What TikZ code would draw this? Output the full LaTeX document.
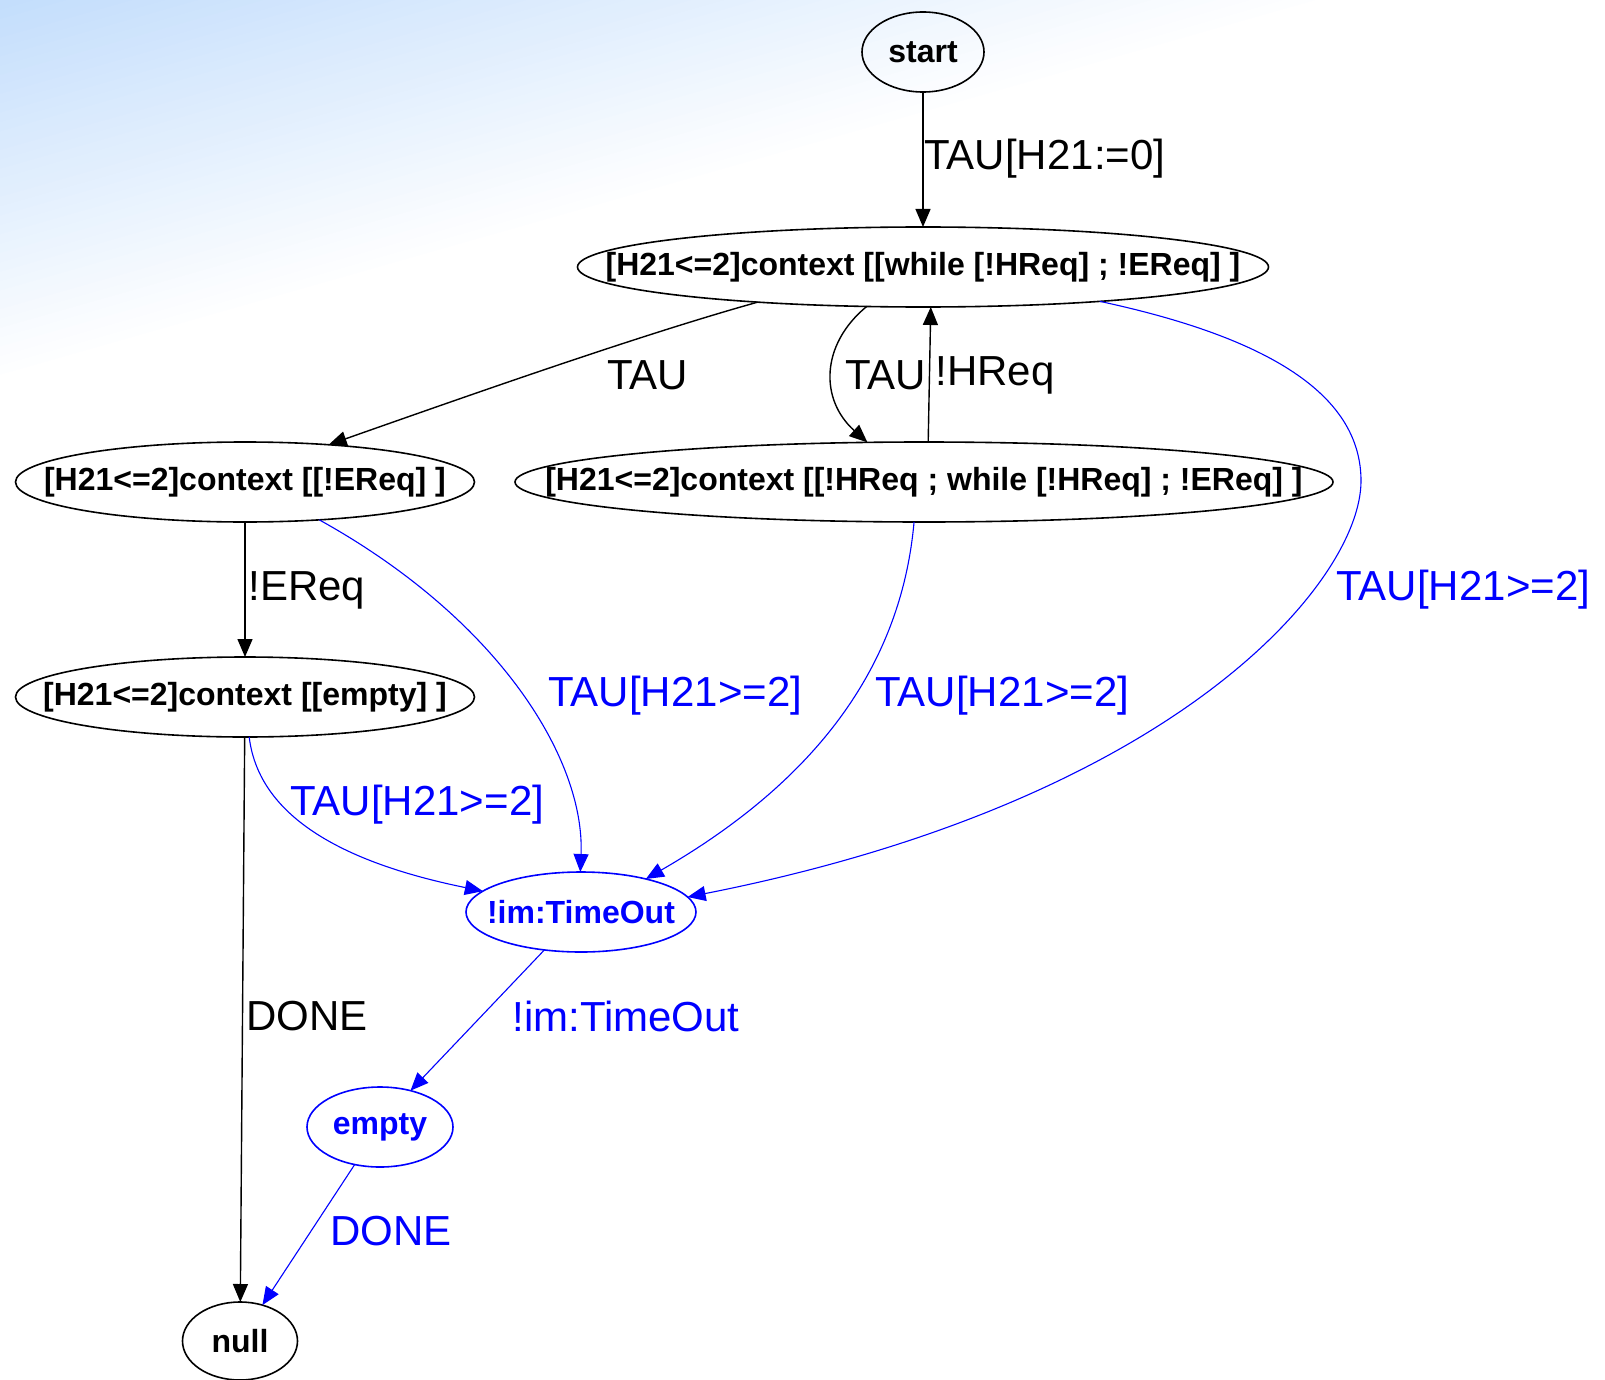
\documentclass[tikz,border=0pt]{standalone}
\usepackage{fontspec}
\setmainfont{Liberation Sans}
\usetikzlibrary{arrows.meta,shapes.geometric}
\definecolor{bgblue}{RGB}{196,222,252}
\definecolor{eblue}{RGB}{0,0,255}
\newcommand\nodetxt[1]{\makebox[0pt][c]{#1}}
\begin{document}
\begin{tikzpicture}[x=0.5pt,y=-0.5pt,
  st/.style={ellipse,draw=black,line width=0.8pt,inner sep=0pt,outer sep=0pt,
    font=\bfseries\fontsize{16}{18}\selectfont,minimum height=40pt},
  bst/.style={st,draw=eblue,text=eblue},
  lab/.style={font=\fontsize{21}{24}\selectfont,anchor=west,inner sep=0pt},
  blab/.style={lab,text=eblue},
  ar/.style={draw=black,line width=0.7pt,-{Triangle[length=9pt,width=7.5pt]}},
  bar/.style={ar,draw=eblue,line width=0.55pt}
]
\useasboundingbox (0,0) rectangle (1605,1380);
% background gradient
\begin{scope}
\clip (0,0) rectangle (1605,1380);
\fill[white] (0,0) rectangle (1605,1380);
\foreach \i in {40,39,...,0} {
  \pgfmathsetmacro\B{\i*9+9}
  \pgfmathsetmacro\p{100*(1-\i/40)}
  \fill[bgblue!\p!white]
    ({-50*0.274-2000*0.962},{-50*0.962+2000*0.274}) --
    ({-50*0.274+2000*0.962},{-50*0.962-2000*0.274}) --
    ({\B*0.274+2000*0.962},{\B*0.962-2000*0.274}) --
    ({\B*0.274-2000*0.962},{\B*0.962+2000*0.274}) -- cycle;
}
\end{scope}

% nodes
\node[st,minimum width=61pt] (start) at (923,52) {\nodetxt{start}};
\node[st,minimum width=345.5pt] (A) at (923,267) {\nodetxt{[H21<=2]context [[while [!HReq] ; !EReq] ]}};
\node[st,minimum width=229.5pt] (B) at (245,482) {\nodetxt{[H21<=2]context [[!EReq] ]}};
\node[st,minimum width=409pt] (C) at (924,482) {\nodetxt{[H21<=2]context [[!HReq ; while [!HReq] ; !EReq] ]}};
\node[st,minimum width=229.5pt] (D) at (245,697) {\nodetxt{[H21<=2]context [[empty] ]}};
\node[bst,minimum width=115pt] (E) at (581,912) {\nodetxt{!im:TimeOut}};
\node[bst,minimum width=73pt] (F) at (380,1127) {\nodetxt{empty}};
\node[st,minimum width=57.5pt,minimum height=39pt] (G) at (240,1341) {\nodetxt{null}};

\coordinate (aemid) at (1361,481);

% edges
\draw[ar] (start) -- (A);
\draw[ar] (A.192) .. controls (640,335) and (470,395) .. (B.24);
\draw[ar] (A.215) .. controls (820,345) and (820,400) .. (C.145);
\draw[ar] (C.84) -- (A.281);
\draw[ar] (B) -- (D);
\draw[ar] (D) -- (G);
\draw[bar] (B.-27) .. controls (500,620) and (585,760) .. (E.91);
\draw[bar] (C.256) .. controls (900,680) and (800,790) .. (E.27);
\draw[bar] (A.349) .. controls (1280,340) and (1361,400) .. (aemid)
   .. controls (1361,580) and (1180,800) .. (E.8);
\draw[bar] (D.276) .. controls (258,810) and (330,860) .. (E.168);
\draw[bar] (E.226) -- (F.50);
\draw[bar] (F.236) -- (G.58);

% labels
\node[lab] (l1) at (924,159) {TAU[H21:=0]};
\node[lab] (l2) at (607,375) {TAU};
\node[lab] (l3) at (845,375) {TAU};
\node[lab] (l4) at (935,375) {!HReq};
\node[lab] (l5) at (248,590) {!EReq};
\node[lab] (l6) at (246,1016) {DONE};
\node[blab] (l7) at (548,696) {TAU[H21>=2]};
\node[blab] (l8) at (875,696) {TAU[H21>=2]};
\node[blab] (l9) at (1336,590) {TAU[H21>=2]};
\node[blab] (l10) at (290,805) {TAU[H21>=2]};
\node[blab] (l11) at (512,1016) {!im:TimeOut};
\node[blab] (l12) at (330,1231) {DONE};
\end{tikzpicture}
\end{document}
